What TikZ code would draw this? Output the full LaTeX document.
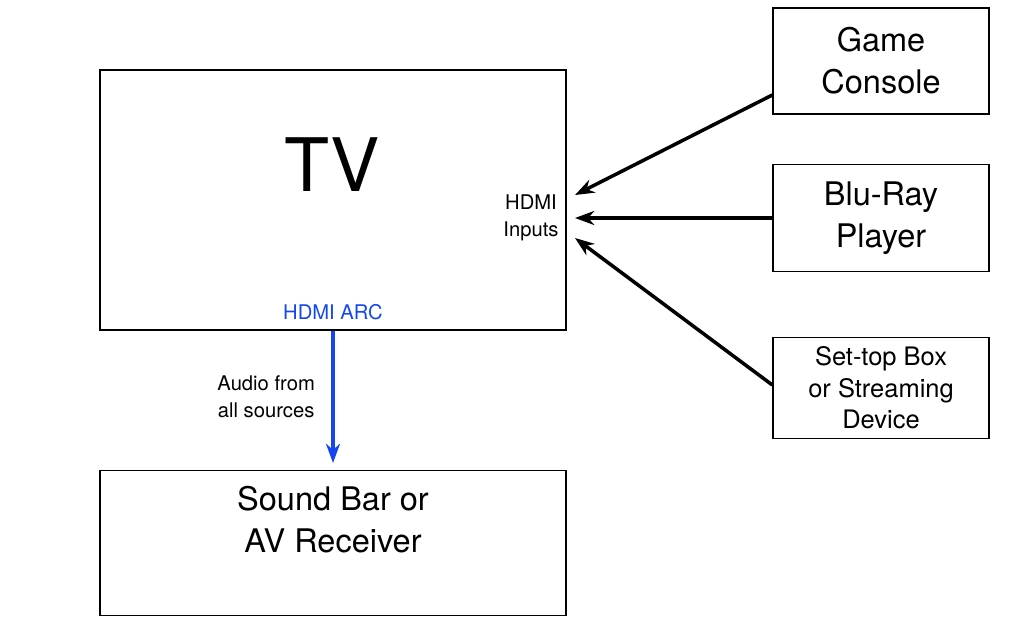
\documentclass[tikz,border=0pt]{standalone}
\usepackage{fontspec}
\setmainfont{TeX Gyre Heros}
\usetikzlibrary{positioning, arrows.meta}
\definecolor{arcblue}{RGB}{20,70,240}
\tikzset{>={Stealth[length=11pt,width=8pt]},
         box/.style={draw, thick, align=center, inner sep=0pt},
         src/.style={box, minimum width=4.32cm, font=\fontsize{18.5}{24}\selectfont},
         link/.style={->, line width=2pt},
         }

\begin{document}
\begin{tikzpicture}[x=0.02cm, y=-0.02cm]
    \useasboundingbox (0,0) rectangle (1024,629);
    \node[box, minimum width=9.32cm, minimum height=5.2cm] (tv) at (333,200) {};
    \node[font=\fontsize{42}{46}\selectfont] (tvname) at (332,165) {TV};
    \node[font=\fontsize{11.5}{15.5}\selectfont, align=center] (inputs) at (531,218) {HDMI\\Inputs};
    \node[font=\fontsize{11.5}{13}\selectfont, text=arcblue] (arc) at (333,312) {HDMI ARC};
    \node[box, minimum width=9.32cm, minimum height=2.9cm, font=\fontsize{18.5}{24}\selectfont,
          text depth=0.95cm] (sound) at (333,543) {Sound Bar or\\AV Receiver};
    \node[src, minimum height=2.12cm] (game) at (881,61) {Game\\Console};
    \node[src, minimum height=2.14cm] (bluray) at (881,218) {Blu-Ray\\Player};
    \node[src, minimum height=2.02cm, font=\fontsize{14.5}{18}\selectfont] (settop) at (881,388) {Set-top Box\\or Streaming\\Device};
    \coordinate (in1) at (575,195);
    \coordinate (in2) at (575,218);
    \coordinate (in3) at (575,238);

    \draw[link] (game.west |- 0,95) -- (in1);
    \draw[link] (bluray.west) -- (in2);
    \draw[link] (settop.west |- 0,385) -- (in3);
    \draw[link, arcblue] (tv.south) -- (sound.north |- 0,463)
        node[midway, left=6pt, text=black, align=center, font=\fontsize{11.5}{15.5}\selectfont] {Audio from\\all sources};
\end{tikzpicture}
\end{document}
